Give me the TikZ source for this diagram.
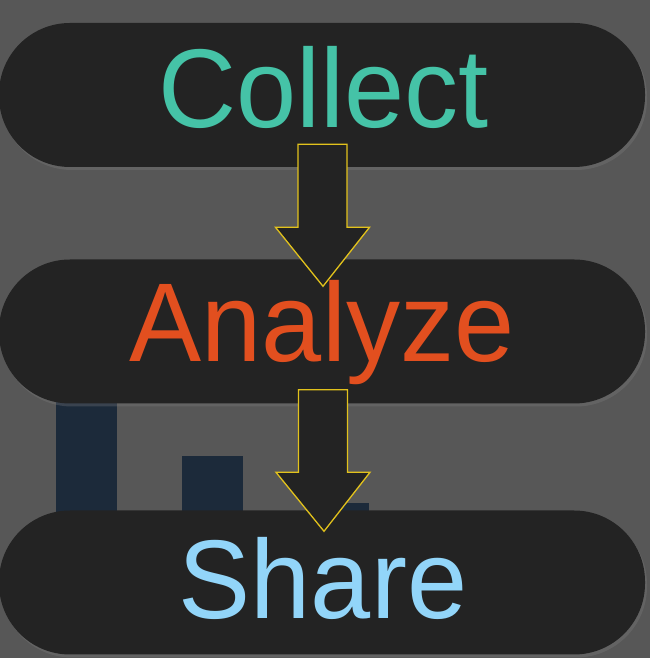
\documentclass[tikz,border=0pt]{standalone}
\usepackage{xcolor}
\usepackage{fontspec}
\setmainfont{Liberation Sans}
\newfontfamily\wordfont[FakeStretch=0.965]{Liberation Sans}
\usepackage{tikz}
\usetikzlibrary{calc}
\usetikzlibrary{shadows}

\definecolor{bggray}{HTML}{575757}
\definecolor{pilldark}{HTML}{232323}
\definecolor{barnavy}{HTML}{1C2A3A}
\definecolor{arrowyellow}{HTML}{E2C21C}
\definecolor{collectgreen}{HTML}{45C3A7}
\definecolor{analyzeorange}{HTML}{E24F1F}
\definecolor{shareblue}{HTML}{92D5F9}

\tikzset{
 pill/.style={rectangle, rounded corners=71pt, fill=pilldark, minimum width=646pt, minimum height=144pt, inner sep=0pt,
  drop shadow={shadow xshift=2pt, shadow yshift=-3pt, opacity=0.3}},
 word/.style={anchor=base, inner sep=0pt, font=\wordfont\fontsize{112}{112}\selectfont},
 blockarrow/.style={fill=pilldark, draw=arrowyellow, line width=1.3pt, line join=miter},
 bar/.style={fill=barnavy}
}

\newcommand{\flowarrow}[2]{%
 \draw [blockarrow] let \p1 = (#1), \p2 = (#2) in
  (\x1-24.5pt, \y1) -- (\x1+24.5pt, \y1) -- (\x1+24.5pt, \y2+59pt) -- (\x1+47pt, \y2+59pt)
  -- (\x2, \y2) -- (\x1-47pt, \y2+59pt) -- (\x1-24.5pt, \y2+59pt) -- cycle;}

\begin{document}
\begin{tikzpicture}[x=1pt, y=1pt]
 \useasboundingbox (0, 0) rectangle (650, 658);
 \clip (0, 0) rectangle (650, 658);
 \fill [bggray] (0, 0) rectangle (650, 658);
 \fill [bar] (56, 278) rectangle (117, 40);
 \fill [bar] (182, 202) rectangle (243, 40);
 \fill [bar] (307, 155) rectangle (369, 40);

 \node [pill] (collect) at (322, 563) {};
 \node [pill] (analyze) at (322, 326.5) {};
 \node [pill] (share) at (322, 75.5) {};

 \node [word, text=collectgreen] (collecttext) at (323.5, 530) {Collect};
 \node [word, text=analyzeorange] (analyzetext) at (322, 296) {Analyze};
 \node [word, text=shareblue] (sharetext) at (323, 39) {Share};

 \coordinate (arrowtop1) at ($(collect.south)+(0.5, 23)$);
 \coordinate (arrowtip1) at ($(analyze.north)+(1, -27)$);
 \coordinate (arrowtop2) at ($(analyze.south)+(1, 14)$);
 \coordinate (arrowtip2) at ($(share.north)+(2, -21)$);
 \flowarrow{arrowtop1}{arrowtip1}
 \flowarrow{arrowtop2}{arrowtip2}
\end{tikzpicture}
\end{document}
